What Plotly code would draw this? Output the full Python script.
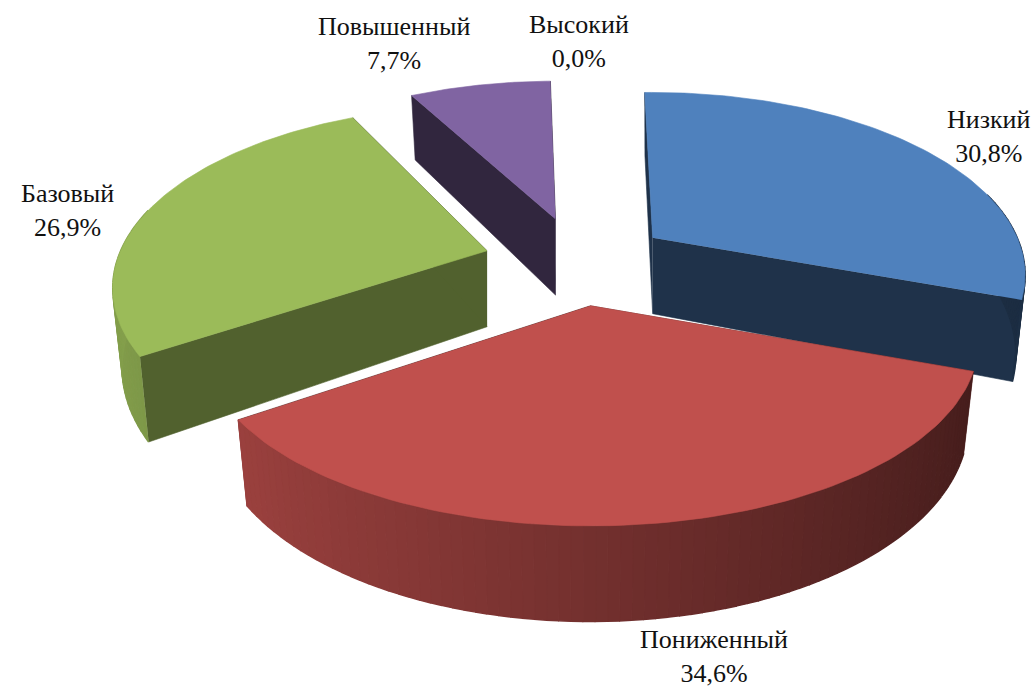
import numpy as np
import plotly.graph_objects as go

categories = ["Низкий", "Пониженный", "Базовый", "Повышенный", "Высокий"]
values = [30.8, 34.6, 26.9, 7.7, 0.0]
value_labels = ["30,8%", "34,6%", "26,9%", "7,7%", "0,0%"]

colors = [(79, 129, 189), (192, 80, 77), (155, 187, 89), (128, 100, 162), (75, 172, 198)]
face_shade = [0.39, 0.42, 0.52, 0.38, 0.4]
label_pos = [(989, 136), (714, 656), (67, 210), (394, 43), (579, 41)]
draw_order = [4, 3, 2, 0, 1]
angle_nudge = [-2.5, -1.5, 1.0, -2.0, 0.0]
x_scale = [0.98, 1.02, 0.985, 0.95, 1.0]
y_scale = [1.0, 1.0, 1.0, 0.95, 1.0]
x_shift = [0, 5, 0, 0, 0]

W, H = 1036, 689
CX, CY = 576, 262      # pie centre
R, RY = 372, 175       # radii of the top face
K = 0.205              # perspective
DEPTH = 76             # extrusion
XSHRINK = 0.975
EXPLODE = {"x": 92, "y": 44}
START = 1.0


def rgb(c, f=1.0):
    return "rgb(%d,%d,%d)" % tuple(min(255, int(round(v * f))) for v in c)


def project(theta_deg, sx=1.0, sy=1.0):
    t = np.radians(theta_deg)
    X, Y = np.sin(t), -np.cos(t)
    w = 1 / (1 - K * Y)
    return R * sx * X * w, RY * sy * Y * w, DEPTH * w


fig = go.Figure()


def poly(xs, ys, color, lw=0.6):
    fig.add_trace(go.Scatter(
        x=list(xs), y=list(ys), mode="lines", fill="toself", fillcolor=color,
        line=dict(color=color, width=lw), hoverinfo="skip", showlegend=False))


total = sum(values)
spans = []
a = START
for v in values:
    b = a + 360 * v / total
    spans.append((a, b))
    a = b

for i in draw_order:
    a, b = spans[i]
    if b - a <= 0:
        continue
    c = colors[i]
    sx, sy = x_scale[i], y_scale[i]
    mid = np.radians((a + b) / 2)
    ax = CX + x_shift[i] + EXPLODE["x"] * np.sin(mid)
    ay = CY - EXPLODE["y"] * np.cos(mid)
    a += angle_nudge[i]
    b += angle_nudge[i]
    # radial faces
    for edge in (a, b):
        px, py, d = project(edge, sx, sy)
        poly([ax, ax + px, ax + px * XSHRINK, ax],
             [ay, ay + py, ay + py + d, ay + DEPTH],
             rgb(c, face_shade[i]))
    # outer rim
    edges = np.arange(a, b + 1.5, 1.5)
    edges[-1] = b
    for e0, e1 in zip(edges[:-1], edges[1:]):
        if np.cos(np.radians((e0 + e1) / 2)) > 0.25:
            continue
        x0, y0, d0 = project(e0, sx, sy)
        x1, y1, d1 = project(e1, sx, sy)
        f = 0.6 - 0.25 * np.sin(np.radians((e0 + e1) / 2))
        poly([ax + x0, ax + x1, ax + x1 * XSHRINK, ax + x0 * XSHRINK],
             [ay + y0, ay + y1, ay + y1 + d1, ay + y0 + d0],
             rgb(c, f), lw=1.5)
    # top face
    th = np.linspace(a, b, 90)
    px, py, _ = project(th, sx, sy)
    poly(np.r_[ax, ax + px], np.r_[ay, ay + py], rgb(c))

annotations = [
    dict(x=x, y=y, text=f"{n}<br>{t}", showarrow=False, xanchor="center", yanchor="middle",
         font=dict(family="Liberation Serif", size=26, color="#111"), align="center")
    for n, t, (x, y) in zip(categories, value_labels, label_pos)
]

fig.update_layout(
    width=W, height=H, margin=dict(l=0, r=0, t=0, b=0),
    paper_bgcolor="white", plot_bgcolor="white", showlegend=False,
    xaxis=dict(range=[0, W], visible=False, fixedrange=True),
    yaxis=dict(range=[H, 0], visible=False, fixedrange=True),
    annotations=annotations,
)
fig.write_html("out.html", post_script="document.body.style.margin='0';", config={"displayModeBar": False})
